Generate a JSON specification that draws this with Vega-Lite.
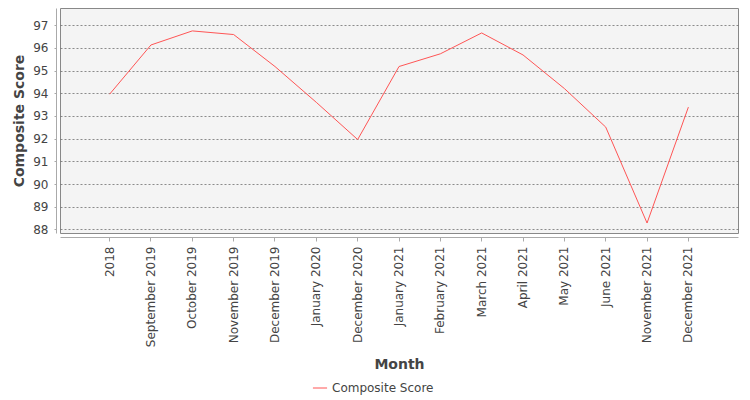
{
  "$schema": "https://vega.github.io/schema/vega-lite/v6.json",
  "autosize": "none",
  "padding": {"left": 60, "top": 8, "right": 12, "bottom": 167},
  "width": 678,
  "height": 225,
  "background": "white",
  "data": {
    "values": [
      {"month": "2018", "series": "Composite Score", "score": 93.96},
      {"month": "September 2019", "series": "Composite Score", "score": 96.13},
      {"month": "October 2019", "series": "Composite Score", "score": 96.75},
      {"month": "November 2019", "series": "Composite Score", "score": 96.59},
      {"month": "December 2019", "series": "Composite Score", "score": 95.18},
      {"month": "January 2020", "series": "Composite Score", "score": 93.6},
      {"month": "December 2020", "series": "Composite Score", "score": 91.96},
      {"month": "January 2021", "series": "Composite Score", "score": 95.18},
      {"month": "February 2021", "series": "Composite Score", "score": 95.74},
      {"month": "March 2021", "series": "Composite Score", "score": 96.66},
      {"month": "April 2021", "series": "Composite Score", "score": 95.69},
      {"month": "May 2021", "series": "Composite Score", "score": 94.21},
      {"month": "June 2021", "series": "Composite Score", "score": 92.51},
      {"month": "November 2021", "series": "Composite Score", "score": 88.28},
      {"month": "December 2021", "series": "Composite Score", "score": 93.39}
    ]
  },
  "mark": {"type": "line", "strokeWidth": 1, "clip": true},
  "encoding": {
    "x": {
      "field": "month",
      "type": "ordinal",
      "sort": null,
      "bandPosition": 0.5,
      "scale": {"type": "band", "paddingInner": 0, "paddingOuter": 0.7},
      "axis": {
        "title": "Month",
        "labelAngle": -90,
        "labelAlign": "right",
        "labelBaseline": "middle",
        "labelPadding": 5,
        "tickSize": 4,
        "bandPosition": 0.5,
        "offset": 4,
        "titlePadding": 11,
        "grid": false
      }
    },
    "y": {
      "field": "score",
      "type": "quantitative",
      "scale": {"domain": [87.84, 97.76], "nice": false, "zero": false},
      "axis": {
        "title": "Composite Score",
        "values": [88, 89, 90, 91, 92, 93, 94, 95, 96, 97],
        "tickSize": 2,
        "offset": 4,
        "labelPadding": 6,
        "titlePadding": 6,
        "grid": true,
        "gridColor": "#707070",
        "gridDash": [2, 2],
        "gridWidth": 0.8
      }
    },
    "color": {
      "field": "series",
      "type": "nominal",
      "scale": {"range": ["#ff5555"]},
      "legend": {
        "title": null,
        "orient": "none",
        "legendX": 252,
        "legendY": 372,
        "symbolType": "stroke",
        "symbolSize": 200,
        "symbolStrokeWidth": 1,
        "labelFontSize": 12,
        "labelColor": "#444444",
        "labelFont": "DejaVu Sans"
      }
    }
  },
  "config": {
    "view": {"fill": "#f4f4f4", "stroke": "#888888", "strokeWidth": 1},
    "axis": {
      "labelFont": "DejaVu Sans",
      "labelFontSize": 12,
      "labelColor": "#444444",
      "titleFont": "DejaVu Sans",
      "titleFontSize": 14,
      "titleFontWeight": "bold",
      "titleColor": "#444444",
      "domainColor": "#aaaaaa",
      "tickColor": "#aaaaaa"
    }
  }
}
